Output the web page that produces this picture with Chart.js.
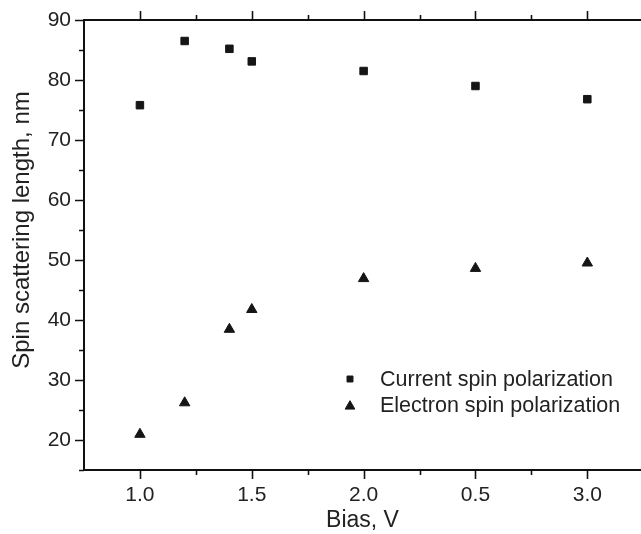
<!DOCTYPE html>
<html>
<head>
<meta charset="utf-8">
<script src="https://cdn.jsdelivr.net/npm/chart.js@4/dist/chart.umd.min.js"></script>
<style>
html,body{margin:0;padding:0;background:#fff;overflow:hidden;}
#wrap{width:641px;height:534px;position:relative;}
</style>
</head>
<body>
<div id="wrap"><canvas id="c"></canvas></div>
<script>
// Data
const biasValues = [1.0, 1.2, 1.4, 1.5, 2.0, 2.5, 3.0];
const currentSpin = [75.8, 86.5, 85.2, 83.1, 81.5, 79.0, 76.8];
const electronSpin = [20.95, 26.2, 38.45, 41.75, 46.9, 48.6, 49.5];
const xMajorTicks = [1.0, 1.5, 2.0, 2.5, 3.0];
const xTickLabels = ["1.0", "1.5", "2.0", "0.5", "3.0"];
const xMinorTicks = [1.25, 1.75, 2.25, 2.75];
const yMajorTicks = [20, 30, 40, 50, 60, 70, 80, 90];
const yMinorTicks = [15, 25, 35, 45, 55, 65, 75, 85];
const seriesNames = ["Current spin polarization", "Electron spin polarization"];
const yTitle = 'Spin scattering length, nm';

const textColor = '#222';
const markColor = '#151515';
const FONT = 'Arial, "Liberation Sans", Helvetica, sans-serif';

const ticksPlugin = {
  id: 'ticksPlugin',
  afterDraw(chart) {
    const ctx = chart.ctx;
    const xs = chart.scales.x, ys = chart.scales.y;
    const a = chart.chartArea;
    ctx.save();
    ctx.strokeStyle = '#111';
    ctx.lineWidth = 2;
    ctx.beginPath();
    ctx.moveTo(a.left - 1, a.top);
    ctx.lineTo(a.right, a.top);
    ctx.stroke();
    ctx.lineWidth = 1.6;
    ctx.beginPath();
    xMajorTicks.forEach(v => {
      const px = Math.round(xs.getPixelForValue(v)) + 0.5;
      ctx.moveTo(px, a.bottom); ctx.lineTo(px, a.bottom + 9);
      ctx.moveTo(px, a.top); ctx.lineTo(px, a.top - 9);
    });
    xMinorTicks.forEach(v => {
      const px = Math.round(xs.getPixelForValue(v)) + 0.5;
      ctx.moveTo(px, a.bottom); ctx.lineTo(px, a.bottom + 5);
      ctx.moveTo(px, a.top); ctx.lineTo(px, a.top - 5);
    });
    yMajorTicks.forEach(v => {
      const py = Math.round(ys.getPixelForValue(v)) + 0.5;
      ctx.moveTo(a.left, py); ctx.lineTo(a.left - 9, py);
    });
    yMinorTicks.forEach(v => {
      const py = Math.round(ys.getPixelForValue(v)) + 0.5;
      ctx.moveTo(a.left, py); ctx.lineTo(a.left - 5, py);
    });
    ctx.stroke();

    // y-axis title (offset slightly above the axis centre, as in the original)
    ctx.save();
    ctx.fillStyle = textColor;
    ctx.font = '24px ' + FONT;
    ctx.textAlign = 'center';
    ctx.textBaseline = 'middle';
    ctx.translate(22.4, (a.top + a.bottom) / 2 - 15);
    ctx.rotate(-Math.PI / 2);
    ctx.fillText(yTitle, 0, 0);
    ctx.restore();

    const ds = chart.data.datasets;
    const lx = 350, ly = [379, 405];
    ds.forEach((d, i) => {
      ctx.fillStyle = markColor;
      ctx.strokeStyle = markColor;
      ctx.lineWidth = 1;
      Chart.helpers.drawPoint(ctx, {
        pointStyle: d.pointStyle,
        radius: i === 0 ? 4.2 : 5.6,
        borderWidth: 1,
        rotation: 0
      }, lx, ly[i] + (i === 1 ? 1.3 : 0));
      ctx.fillStyle = textColor;
      ctx.font = '21.5px ' + FONT;
      ctx.textBaseline = 'middle';
      ctx.textAlign = 'left';
      ctx.fillText(d.label, 380, ly[i] + 1);
    });
    ctx.restore();
  }
};

new Chart(document.getElementById('c'), {
  type: 'scatter',
  data: {
    datasets: [
      {
        label: seriesNames[0],
        data: biasValues.map((x, i) => ({x: x, y: currentSpin[i]})),
        pointStyle: 'rect',
        pointRadius: 5.3,
        pointBorderWidth: 1,
        backgroundColor: markColor,
        borderColor: markColor
      },
      {
        label: seriesNames[1],
        data: biasValues.map((x, i) => ({x: x, y: electronSpin[i]})),
        pointStyle: 'triangle',
        pointRadius: 6,
        pointBorderWidth: 1,
        backgroundColor: markColor,
        borderColor: markColor
      }
    ]
  },
  options: {
    responsive: true,
    maintainAspectRatio: false,
    animation: false,
    devicePixelRatio: 1,
    layout: {autoPadding: false, padding: {top: 20, right: 0, left: 0, bottom: 0}},
    plugins: {legend: {display: false}, tooltip: {enabled: false}},
    scales: {
      x: {
        type: 'linear',
        min: 0.75,
        max: 3.24,
        afterFit(s) { s.height = 64; s.paddingLeft = 0; s.paddingRight = 0; },
        afterBuildTicks(s) { s.ticks = xMajorTicks.map(v => ({value: v})); },
        grid: {display: false, drawTicks: false},
        border: {display: true, color: '#111', width: 2},
        ticks: {
          padding: 13,
          color: textColor,
          font: {family: FONT, size: 21},
          maxRotation: 0,
          autoSkip: false,
          callback: (v) => {
            const i = xMajorTicks.findIndex(t => Math.abs(t - v) < 1e-6);
            return i >= 0 ? xTickLabels[i] : '';
          }
        },
        title: {
          display: true,
          text: 'Bias, V',
          color: textColor,
          font: {family: FONT, size: 23},
          padding: {top: 0, bottom: 0}
        }
      },
      y: {
        type: 'linear',
        min: 15,
        max: 90,
        afterFit(s) { s.width = 84; s.paddingTop = 0; s.paddingBottom = 0; },
        afterBuildTicks(s) { s.ticks = yMajorTicks.map(v => ({value: v})); },
        grid: {display: false, drawTicks: false},
        border: {display: true, color: '#111', width: 2},
        ticks: {
          padding: 13,
          color: textColor,
          font: {family: FONT, size: 21},
          autoSkip: false,
          callback: (v) => String(v)
        },
        title: {display: false}
      }
    }
  },
  plugins: [ticksPlugin]
});
</script>
</body>
</html>
